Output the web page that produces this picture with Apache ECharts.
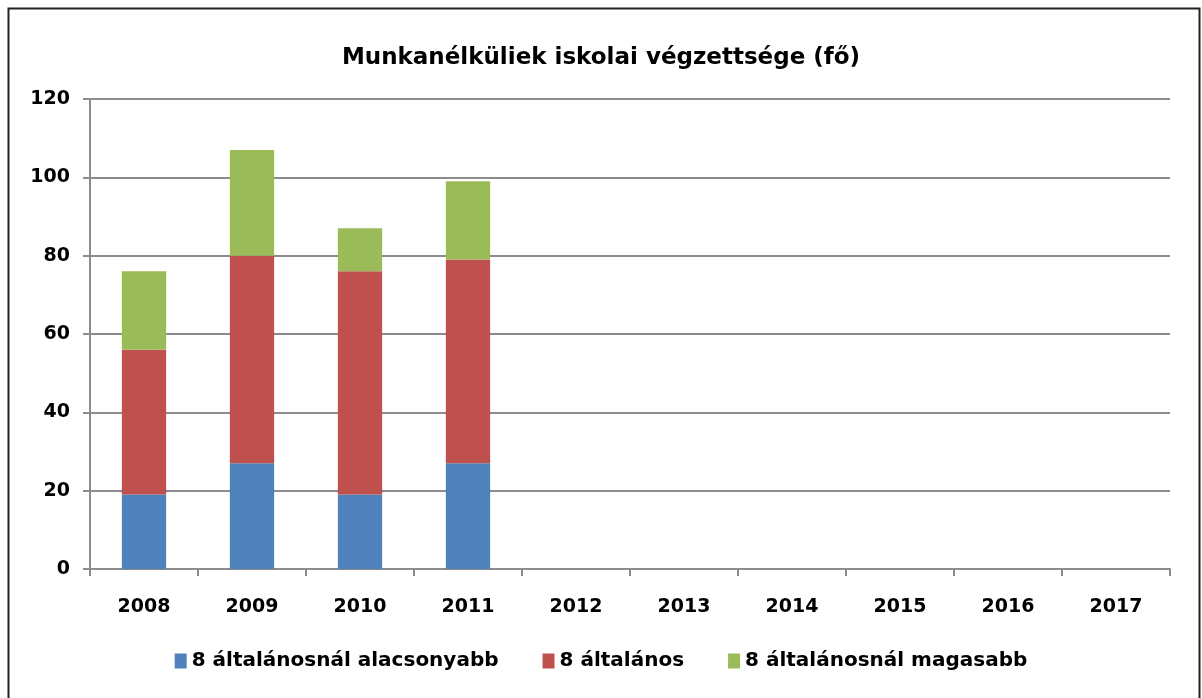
<!DOCTYPE html>
<html>
<head>
<meta charset="utf-8">
<script src="https://cdn.jsdelivr.net/npm/echarts@6/dist/echarts.min.js"></script>
<style>
html,body{margin:0;padding:0;background:#fff;}
#chart{width:1202px;height:698px;}
</style>
</head>
<body>
<div id="chart"></div>
<script>
const title = 'Munkanélküliek iskolai végzettsége (fő)';
const categories = ['2008','2009','2010','2011','2012','2013','2014','2015','2016','2017'];
const seriesNames = ['8 általánosnál alacsonyabb','8 általános','8 általánosnál magasabb'];
const lowerValues = [19, 27, 19, 27, null, null, null, null, null, null];
const primaryValues = [37, 53, 57, 52, null, null, null, null, null, null];
const higherValues = [20, 27, 11, 20, null, null, null, null, null, null];
const colors = ['#4f81bd','#c0504d','#9bbb59'];

const font = 'DejaVu Sans';
const chart = echarts.init(document.getElementById('chart'));
chart.setOption({
  animation: false,
  title: {
    text: title, left: 'center', top: 42,
    textStyle: {fontFamily: font, fontWeight: 'bold', fontSize: 23, color: '#000'}
  },
  legend: {
    bottom: 22, left: 'center', itemWidth: 12, itemHeight: 15, itemGap: 44,
    icon: 'rect',
    textStyle: {fontFamily: font, fontWeight: 'bold', fontSize: 20, color: '#000'},
    data: seriesNames
  },
  grid: {left: 90, right: 32, top: 99, bottom: 129, containLabel: false},
  xAxis: {
    type: 'category', data: categories,
    axisLine: {lineStyle: {color: '#8c8c8c', width: 2}},
    axisTick: {show: true, length: 7, lineStyle: {color: '#8c8c8c', width: 2}},
    axisLabel: {fontFamily: font, fontWeight: 'bold', fontSize: 19, color: '#000', margin: 29}
  },
  yAxis: {
    type: 'value', min: 0, max: 120, interval: 20,
    axisLine: {show: true, lineStyle: {color: '#8c8c8c', width: 2}},
    axisTick: {show: true, length: 7, lineStyle: {color: '#8c8c8c', width: 2}},
    splitLine: {lineStyle: {color: '#8c8c8c', width: 2}},
    axisLabel: {fontFamily: font, fontWeight: 'bold', fontSize: 19, color: '#000', margin: 20}
  },
  graphic: [{
    type: 'rect', shape: {x: 8.5, y: 8.5, width: 1191, height: 720},
    style: {fill: 'none', stroke: '#222', lineWidth: 2}, silent: true
  }],
  series: [
    {name: seriesNames[0], type: 'bar', stack: 's', data: lowerValues, barWidth: '41%', itemStyle: {color: colors[0]}},
    {name: seriesNames[1], type: 'bar', stack: 's', data: primaryValues, itemStyle: {color: colors[1]}},
    {name: seriesNames[2], type: 'bar', stack: 's', data: higherValues, itemStyle: {color: colors[2]}}
  ]
});
</script>
</body>
</html>
